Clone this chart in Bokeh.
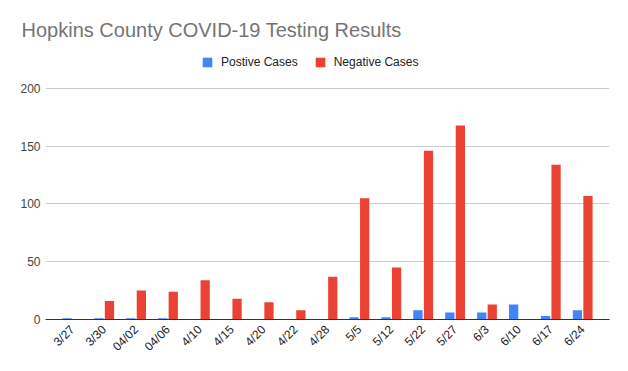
import math
from bokeh.plotting import figure
from bokeh.models import ColumnDataSource, Range1d, FactorRange, Legend, LegendItem
from bokeh.transform import dodge
from bokeh.embed import file_html
from bokeh.resources import INLINE

dates = ["3/27", "3/30", "04/02", "04/06", "4/10", "4/15", "4/20", "4/22", "4/28",
         "5/5", "5/12", "5/22", "5/27", "6/3", "6/10", "6/17", "6/24"]
positive = [1, 1, 1, 1, 0, 0, 0, 0, 0, 2, 2, 8, 6, 6, 13, 3, 8]
negative = [0, 16, 25, 24, 34, 18, 15, 8, 37, 105, 45, 146, 168, 13, 0, 134, 107]
y_ticks = [0, 50, 100, 150, 200]
# the plot frame extends above the 200 line to hold the legend
y_top = 241.5

FONT = "Liberation Sans"
BLUE = "#4285F4"
RED = "#EA4335"

src = ColumnDataSource(dict(date=dates, pos=positive, neg=negative))

p = figure(width=628, height=371, output_backend="svg", toolbar_location=None,
           x_range=FactorRange(factors=dates, range_padding=0.34, range_padding_units="absolute"),
           y_range=Range1d(0, y_top),
           min_border_left=45, min_border_right=19, min_border_top=40, min_border_bottom=52)

p.title.text = "Hopkins County COVID-19 Testing Results"
p.title.text_font = FONT
p.title.text_font_size = "20px"
p.title.text_font_style = "normal"
p.title.text_color = "#757575"
p.title.align = "left"
p.title.offset = -24
p.title.standoff = 0

r1 = p.vbar(x=dodge("date", -0.165, range=p.x_range), top="pos", width=0.29, source=src,
            fill_color=BLUE, line_color=None)
r2 = p.vbar(x=dodge("date", 0.165, range=p.x_range), top="neg", width=0.29, source=src,
            fill_color=RED, line_color=None)

legend = Legend(items=[LegendItem(label="Postive Cases", renderers=[r1]),
                       LegendItem(label="Negative Cases", renderers=[r2])],
                orientation="horizontal", location=(156, 250),
                label_text_font=FONT, label_text_font_size="12px", label_text_color="#222222",
                glyph_width=12, glyph_height=12, label_standoff=8, spacing=16,
                padding=0, margin=0, border_line_color=None, background_fill_alpha=0)
p.add_layout(legend, "center")

p.yaxis.ticker = y_ticks
p.yaxis.axis_line_color = None
p.yaxis.major_tick_line_color = None
p.yaxis.minor_tick_line_color = None
p.yaxis.major_tick_out = 0
p.yaxis.major_label_text_font = FONT
p.yaxis.major_label_text_font_size = "12px"
p.yaxis.major_label_text_color = "#444444"
p.yaxis.major_label_standoff = 5

p.xaxis.axis_line_color = "#333333"
p.xaxis.major_tick_line_color = None
p.xaxis.minor_tick_line_color = None
p.xaxis.major_tick_out = 0
p.xaxis.major_label_orientation = math.pi / 4
p.xaxis.major_label_text_font = FONT
p.xaxis.major_label_text_font_size = "12px"
p.xaxis.major_label_text_color = "#222222"
p.xaxis.major_label_standoff = 8

p.xgrid.grid_line_color = None
p.ygrid.grid_line_color = "#cccccc"
p.outline_line_color = None

open("out.html", "w").write(file_html(p, INLINE))
